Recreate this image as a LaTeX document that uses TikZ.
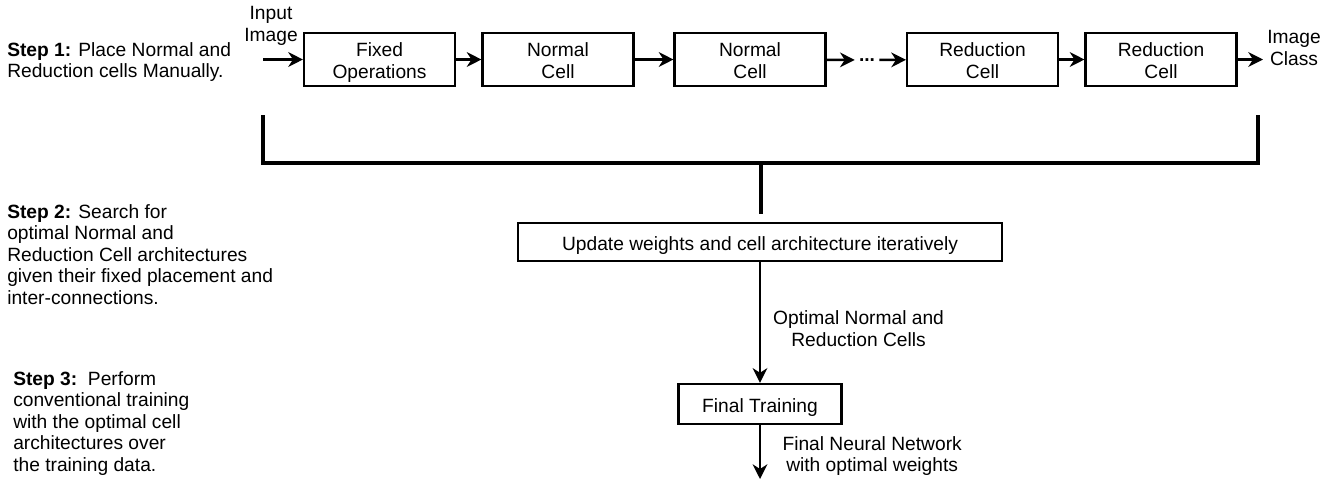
\documentclass[tikz,border=0pt]{standalone}
\usepackage{fontspec}
\setmainfont{Liberation Sans}
\usetikzlibrary{arrows.meta,positioning,calc}
\newcommand\twoln[2]{\rule{0pt}{16pt}#1\\#2\rule[-4pt]{0pt}{4pt}}

\begin{document}
\begin{tikzpicture}[x=0.75pt,y=-0.75pt,
  font=\fontsize{14.4}{16.2}\selectfont,
  cell/.style={draw,line width=1.8pt,minimum width=113pt,minimum height=40pt,align=center,inner sep=1pt},
  one/.style={cell,execute at begin node={\rule{0pt}{15pt}},execute at end node={\rule[-2.5pt]{0pt}{2.5pt}}},
  stp/.style={anchor=north west,align=left,inner sep=0pt},
  lbl/.style={align=center,inner sep=0pt},
  arr/.style={-{Stealth[length=11pt,width=11pt,inset=3.5pt]},line width=1.8pt},
  brk/.style={line width=2.6pt}]
\useasboundingbox(0,0)rectangle(1336,479);
\node[stp](s1) at(7,42){\textbf{Step 1:} Place Normal and\\Reduction cells Manually.};
\node[stp](s2) at(7,204){\textbf{Step 2:} Search for\\optimal Normal and\\Reduction Cell architectures\\given their fixed placement and\\inter-connections.};
\node[stp](s3) at(13,371){\textbf{Step 3:}~~Perform\\conventional training\\with the optimal cell\\architectures over\\the training data.};
\node[lbl](inp) at(271,26){Input\\Image};
\node[lbl](cls) at(1294,48){Image\\Class};
\coordinate(src) at(263,59.5);
\coordinate(clsin) at(1263,59.5);
\node[cell](fix)  at(379.5,59.5){\twoln{Fixed}{Operations}};
\node[cell](nor1) at(558,59.5){\twoln{Normal}{Cell}};
\node[cell](nor2) at(750,59.5){\twoln{Normal}{Cell}};
\node[inner sep=3pt,font=\fontsize{14.4}{16.2}\selectfont\bfseries](dots) at(867,60){...};
\node[cell](red1) at(982.5,59.5){\twoln{Reduction}{Cell}};
\node[cell](red2) at(1161,59.5){\twoln{Reduction}{Cell}};
\coordinate(bl) at(263,115);
\coordinate(br) at(1258,115);
\coordinate(bm) at(761,163);
\coordinate(bt) at(761,214);
\node[one,minimum width=363pt,minimum height=28.5pt](upd) at(760,242){Update weights and cell architecture iteratively};
\node[one,minimum width=122pt,minimum height=30pt](fin) at(760,404){Final Training};
\coordinate(out) at(760,479);
\draw[arr](src)--(fix);
\draw[arr](fix)--(nor1);
\draw[arr](nor1)--(nor2);
\draw[arr](nor2)--(dots);
\draw[arr](dots)--(red1);
\draw[arr](red1)--(red2);
\draw[arr](red2)--(clsin);
\draw[brk](bl)|-(bm)-|(br);
\draw[brk](bm)--(bt);
\draw[arr](upd)--(fin) node[lbl,pos=0.55,right=9pt]{Optimal Normal and\\Reduction Cells};
\draw[arr](fin)--(out) node[lbl,pos=0.57,right=16pt]{Final Neural Network\\with optimal weights};
\end{tikzpicture}
\end{document}
